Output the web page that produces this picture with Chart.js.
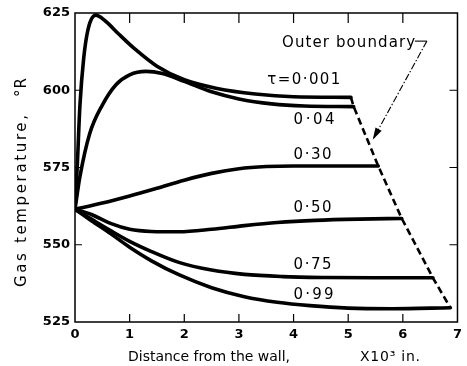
<!DOCTYPE html>
<html><head><meta charset="utf-8">
<script src="https://cdn.jsdelivr.net/npm/chart.js@4/dist/chart.umd.min.js"></script>
<style>html,body{margin:0;padding:0;background:#fff}#wrap{width:467px;height:366px}</style>
</head><body><div id="wrap"><canvas id="c" width="467" height="366"></canvas></div>
<script>
// ---- data (x in 10^3 in., y in °R) ----
const xTickValues = [0,1,2,3,4,5,6,7];
const yTickValues = [525,550,575,600,625];
const innerTicksX = [1,2,3,4,5,6];
const innerTicksY = [550,575,600];

const t001X = [0, 0.04, 0.09, 0.16, 0.24, 0.38, 0.55, 0.8, 1.1, 1.5, 2.0, 2.6, 3.3, 4.0, 5.05];
const t001Y = [561.5, 575, 595, 610.5, 619.8, 624.3, 622.5, 618.2, 613.3, 607.8, 603.4, 600.6, 598.8, 597.9, 597.7];
const t04X = [0, 0.09, 0.27, 0.5, 0.75, 1.0, 1.3, 1.6, 2.0, 2.5, 3.0, 3.6, 4.2, 5.1];
const t04Y = [561.5, 572, 586, 595.2, 601.8, 605, 606.1, 605.4, 602.9, 599.5, 597.2, 595.6, 594.9, 594.7];
const t30X = [0, 0.5, 1.0, 1.5, 2.0, 2.5, 3.0, 3.5, 4.0, 4.6, 5.55];
const t30Y = [561.5, 563.5, 565.8, 568.3, 570.9, 573.1, 574.6, 575.3, 575.5, 575.5, 575.5];
const t50X = [0, 0.3, 0.65, 1.0, 1.4, 1.9, 2.5, 3.1, 3.7, 4.4, 5.2, 5.98];
const t50Y = [561.5, 559.8, 556.9, 555.0, 554.3, 554.2, 555.0, 556.2, 557.2, 557.9, 558.3, 558.5];
const t75X = [0, 0.3, 0.65, 1.0, 1.4, 1.9, 2.5, 3.1, 3.8, 4.6, 5.5, 6.55];
const t75Y = [561.5, 558.3, 554.6, 551.1, 547.8, 544.3, 541.8, 540.4, 539.7, 539.4, 539.3, 539.3];
const t99X = [0, 0.3, 0.65, 1.0, 1.4, 1.9, 2.5, 3.1, 3.7, 4.3, 5.0, 5.8, 6.87];
const t99Y = [561.5, 557.8, 553.6, 549.2, 544.8, 540.3, 536.1, 533.2, 531.4, 530.3, 529.5, 529.3, 529.6];
const boundaryX = [5.05, 5.1, 5.55, 5.98, 6.55, 6.87];
const boundaryY = [597.7, 594.7, 575.5, 558.5, 539.3, 529.6];

const curveLabels = ["τ=0·001", "0·04", "0·30", "0·50", "0·75", "0·99"];
const curveLabelX = [3.52, 4.0, 4.0, 4.0, 4.0, 4.0];
const curveLabelY = [603.3, 590.4, 579.0, 561.9, 543.4, 533.7];
const boundaryLabel = "Outer boundary";
const boundaryLabelPos = [3.79, 615.3];
const arrowPath = [[6.22, 615.9], [6.44, 615.9], [5.45, 584.0]];
const xTitle = "Distance from the wall,";
const xUnit = "X10³ in.";
const yTitle = "Gas temperature,";
const yUnit = "°R";

const pts = (xs, ys) => xs.map((x, i) => ({x, y: ys[i]}));
const curve = (xs, ys) => ({data: pts(xs, ys), borderColor: '#000', borderWidth: 3.6, pointRadius: 0,
  cubicInterpolationMode: 'monotone', fill: false, borderCapStyle: 'round', borderJoinStyle: 'round'});

Chart.defaults.color = '#000';
const FONT = "'DejaVu Sans', 'Liberation Sans', sans-serif";

function spaced(ctx, text, x, y, target) {
  if ('letterSpacing' in ctx) ctx.letterSpacing = '0px';
  const w = ctx.measureText(text).width;
  const n = [...text].length;
  if (target && 'letterSpacing' in ctx && n > 1) ctx.letterSpacing = ((target - w) / (n - 1)) + 'px';
  ctx.fillText(text, x, y);
  if ('letterSpacing' in ctx) ctx.letterSpacing = '0px';
}

const decor = {
  id: 'decor',
  afterDraw(chart) {
    const ctx = chart.ctx, a = chart.chartArea, xs = chart.scales.x, ys = chart.scales.y;
    ctx.save();
    ctx.strokeStyle = '#000'; ctx.lineWidth = 1.5;
    ctx.strokeRect(a.left, a.top, a.right - a.left, a.bottom - a.top);
    ctx.lineWidth = 1.2;
    ctx.beginPath();
    innerTicksX.forEach(v => { const p = xs.getPixelForValue(v);
      ctx.moveTo(p, a.bottom); ctx.lineTo(p, a.bottom - 8);
      ctx.moveTo(p, a.top); ctx.lineTo(p, a.top + 10); });
    innerTicksY.forEach(v => { const p = ys.getPixelForValue(v);
      ctx.moveTo(a.left, p); ctx.lineTo(a.left + 7, p);
      ctx.moveTo(a.right, p); ctx.lineTo(a.right - 8, p); });
    ctx.stroke();

    // curve labels
    ctx.fillStyle = '#000'; ctx.textBaseline = 'middle'; ctx.textAlign = 'left';
    ctx.font = '15px ' + FONT;
    const widths = [73, 41, 38, 38, 38, 40];
    curveLabels.forEach((t, i) => spaced(ctx, t, xs.getPixelForValue(curveLabelX[i]), ys.getPixelForValue(curveLabelY[i]), widths[i]));
    spaced(ctx, boundaryLabel, xs.getPixelForValue(boundaryLabelPos[0]), ys.getPixelForValue(boundaryLabelPos[1]), 133);

    // arrow
    const ap = arrowPath.map(p => [xs.getPixelForValue(p[0]), ys.getPixelForValue(p[1])]);
    ctx.lineWidth = 1.1;
    ctx.setLineDash([]);
    ctx.beginPath(); ctx.moveTo(ap[0][0], ap[0][1]); ctx.lineTo(ap[1][0], ap[1][1]); ctx.stroke();
    ctx.setLineDash([7, 2, 1.5, 2]);
    ctx.beginPath(); ctx.moveTo(ap[1][0], ap[1][1]); ctx.lineTo(ap[2][0], ap[2][1]); ctx.stroke();
    ctx.setLineDash([]);
    const ang = Math.atan2(ap[2][1] - ap[1][1], ap[2][0] - ap[1][0]);
    const L = 12, W = 3.5;
    ctx.beginPath();
    ctx.moveTo(ap[2][0], ap[2][1]);
    ctx.lineTo(ap[2][0] - L * Math.cos(ang) + W * Math.sin(ang), ap[2][1] - L * Math.sin(ang) - W * Math.cos(ang));
    ctx.lineTo(ap[2][0] - L * Math.cos(ang) - W * Math.sin(ang), ap[2][1] - L * Math.sin(ang) + W * Math.cos(ang));
    ctx.closePath(); ctx.fill();

    // axis titles
    ctx.font = '14px ' + FONT;
    ctx.textBaseline = 'middle';
    const ty = a.bottom + 35;
    spaced(ctx, xTitle, a.left + 53, ty, 162);
    spaced(ctx, xUnit, a.left + 285, ty, 60);
    ctx.save();
    ctx.translate(22, a.top + 274);
    ctx.rotate(-Math.PI / 2);
    ctx.font = '15px ' + FONT;
    spaced(ctx, yTitle, 0, 0, 172);
    ctx.restore();
    ctx.save();
    ctx.translate(22, a.top + 84);
    ctx.rotate(-Math.PI / 2);
    ctx.font = '15px ' + FONT;
    spaced(ctx, yUnit, 0, 0, 19);
    ctx.restore();
    ctx.restore();
  }
};

new Chart(document.getElementById('c'), {
  type: 'line',
  data: { datasets: [
    curve(t001X, t001Y), curve(t04X, t04Y), curve(t30X, t30Y),
    curve(t50X, t50Y), curve(t75X, t75Y), curve(t99X, t99Y),
    {data: pts(boundaryX, boundaryY), borderColor: '#000', borderWidth: 2.6, pointRadius: 0,
     borderDash: [7, 4], tension: 0, fill: false}
  ]},
  options: {
    responsive: false, animation: false,
    layout: {padding: {top: 13, right: 4, left: 0, bottom: 0}},
    plugins: {legend: {display: false}, tooltip: {enabled: false}},
    scales: {
      x: {type: 'linear', min: 0, max: 7,
        afterBuildTicks: s => { s.ticks = xTickValues.map(v => ({value: v})); },
        afterFit: s => { s.height = 44; },
        grid: {display: false, drawTicks: false}, border: {display: false},
        ticks: {padding: 5, font: {family: FONT, size: 13, weight: 'bold'}, color: '#000'}},
      y: {type: 'linear', min: 525, max: 625,
        afterBuildTicks: s => { s.ticks = yTickValues.map(v => ({value: v})); },
        afterFit: s => { s.width = 75; },
        grid: {display: false, drawTicks: false}, border: {display: false},
        ticks: {padding: 5, font: {family: FONT, size: 13, weight: 'bold'}, color: '#000'}}
    }
  },
  plugins: [decor]
});
</script></body></html>
